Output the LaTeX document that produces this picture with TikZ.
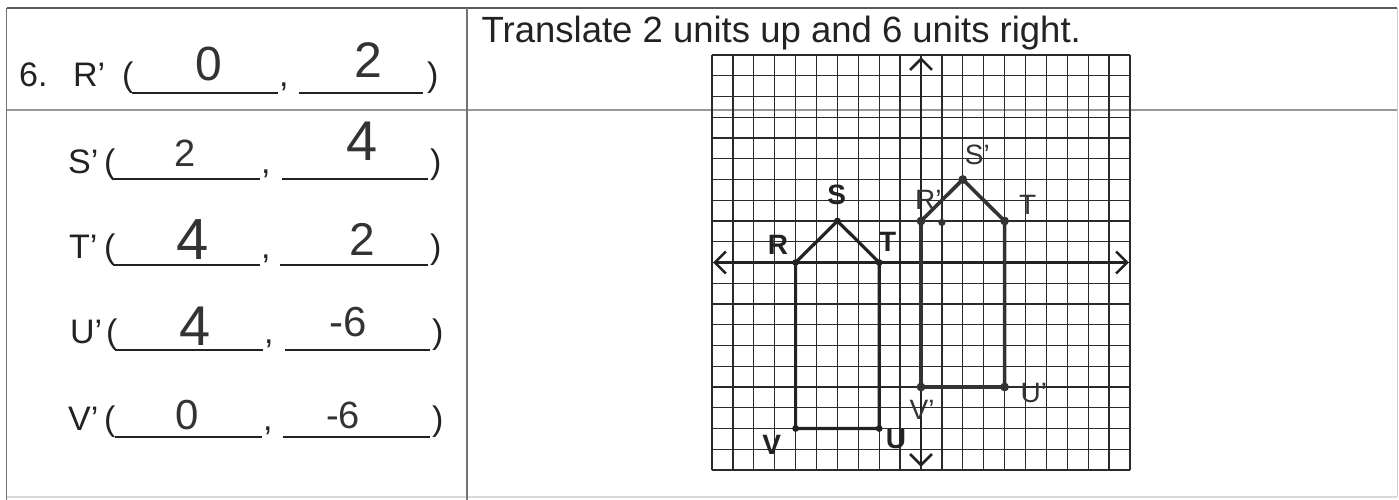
\documentclass[tikz,border=0pt]{standalone}
\usepackage{fontspec}
\setmainfont{Liberation Sans}
\usetikzlibrary{arrows.meta}
\definecolor{ink}{HTML}{222222}
\definecolor{pencil}{HTML}{333333}
\definecolor{gridc}{HTML}{2A2A2A}
\begin{document}
\begin{tikzpicture}[x=1pt,y=-1pt,
  typed/.style={anchor=base west, inner sep=0pt, text=ink, font=\fontsize{34}{36}\selectfont},
  title/.style={anchor=base west, inner sep=0pt, text=ink, font=\fontsize{36.5}{40}\selectfont},
  hand/.style={inner sep=0pt, text=pencil, font=\fontsize{#1}{#1}\selectfont},
  blank/.style={line width=1.3pt, draw=ink},
  ptlabel/.style={inner sep=0pt, text=ink, font=\fontsize{28}{28}\selectfont\bfseries},
  handlabel/.style={inner sep=0pt, text=pencil, font=\fontsize{28}{28}\selectfont},
  gridline/.style={draw=gridc, line width=1.3pt},
  axisline/.style={draw=ink, line width=2.6pt, {Straight Barb[length=11pt,width=22pt]}-{Straight Barb[length=11pt,width=22pt]}},
  figline/.style={draw=ink, line width=3.2pt, line join=round},
  handline/.style={draw=pencil, line width=3.6pt, line join=round},
  vdot/.style={fill=ink}
]
\useasboundingbox (0,0) rectangle (1399,500);
% table frame
\draw[draw=black!40, line width=1.2pt] (6.5,110) -- (1397,110);
\draw[draw=black!15, line width=1.2pt] (6.5,497) -- (1397,497);
\draw[draw=black!20, line width=1pt] (1397,8) -- (1397,497);
\draw[draw=black!65, line width=1.6pt] (6.5,8) -- (1397,8);
\draw[draw=black!55, line width=1.4pt] (6.5,8) -- (6.5,500);
\draw[draw=black!55, line width=1.4pt] (467,8) -- (467,500);
% title
\node[title] (ttl) at (481.5,43) {Translate 2 units up and 6 units right.};
% row 1
\node[typed] (n6) at (19,87) {6.};
\node[typed] (r1) at (73,87) {R’};
\node[typed] (r1o) at (122,87) {(};
\draw[blank] (132,93) -- (278,93);
\node[typed] (r1c) at (279,87) {,};
\draw[blank] (299,93) -- (423,93);
\node[typed] (r1e) at (427,87) {)};
\node[hand=48] (r1x) at (209,64) {0};
\node[hand=50] (r1y) at (368,60) {2};
% row 2
\node[typed] (r2) at (68,173) {S’};
\node[typed] (r2o) at (104,173) {(};
\draw[blank] (113,179) -- (260,179);
\node[typed] (r2c) at (261,173) {,};
\draw[blank] (282,179) -- (428,179);
\node[typed] (r2e) at (430,173) {)};
\node[hand=38] (r2x) at (185,153) {2};
\node[hand=56] (r2y) at (362,141) {4};
% row 3
\node[typed] (r3) at (69,258) {T’};
\node[typed] (r3o) at (104,258) {(};
\draw[blank] (113,265) -- (260,265);
\node[typed] (r3c) at (261,258) {,};
\draw[blank] (280,265) -- (428,265);
\node[typed] (r3e) at (430,258) {)};
\node[hand=58] (r3x) at (193,240) {4};
\node[hand=46] (r3y) at (362,239) {2};
% row 4
\node[typed] (r4) at (70,343) {U’};
\node[typed] (r4o) at (106,343) {(};
\draw[blank] (115,350) -- (263,350);
\node[typed] (r4c) at (264,343) {,};
\draw[blank] (285,350) -- (430,350);
\node[typed] (r4e) at (432,343) {)};
\node[hand=56] (r4x) at (195,326) {4};
\node[hand=42] (r4y) at (348,322) {-6};
% row 5
\node[typed] (r5) at (68,430) {V’};
\node[typed] (r5o) at (104,430) {(};
\draw[blank] (115,437) -- (262,437);
\node[typed] (r5c) at (263,430) {,};
\draw[blank] (283,437) -- (430,437);
\node[typed] (r5e) at (432,430) {)};
\node[hand=42] (r5x) at (187,415) {0};
\node[hand=38] (r5y) at (343,415) {-6};
% coordinate grid
\begin{scope}[shift={(921,262.5)}, x=20.9pt, y=20.75pt]
  \foreach \k in {-10,...,10} {
    \draw[gridline] (\k,-10) -- (\k,10);
    \draw[gridline] (-10,\k) -- (10,\k);
  }
  \coordinate (xl) at (-9.95,0);
  \coordinate (xr) at (9.95,0);
  \coordinate (yt) at (0,9.9);
  \coordinate (yb) at (0,-9.85);
  \draw[axisline] (xl) -- (xr);
  \draw[axisline] (yb) -- (yt);
  % original figure
  \coordinate (R) at (-6,0);
  \coordinate (S) at (-4,2);
  \coordinate (T) at (-2,0);
  \coordinate (U) at (-2,-8);
  \coordinate (V) at (-6,-8);
  \draw[figline] (R) -- (S) -- (T) -- (U) -- (V) -- cycle;
  \foreach \p in {R,S,T,U,V} \fill[vdot] (\p) circle (3.4pt);
  \node[ptlabel] (lR) at (-6.84,0.86) {R};
  \node[ptlabel] (lS) at (-4.03,3.25) {S};
  \node[ptlabel] (lT) at (-1.59,1.0) {T};
  \node[ptlabel] (lV) at (-7.14,-8.8) {V};
  \node[ptlabel] (lU) at (-1.2,-8.5) {U};
  % translated figure (hand drawn)
  \coordinate (Rp) at (0,2);
  \coordinate (Sp) at (2,4);
  \coordinate (Tp) at (4,2);
  \coordinate (Up) at (4,-6);
  \coordinate (Vp) at (0,-6);
  \coordinate (extra) at (1,1.93);
  \draw[handline] (Rp) -- (Sp) -- (Tp) -- (Up) -- (Vp) -- cycle;
  \foreach \p in {Rp,Sp,Tp,Up,Vp} \fill[pencil] (\p) circle (4.4pt);
  \fill[pencil] (extra) circle (3.6pt);
  \node[handlabel] (lRp) at (0.35,3.0) {R'};
  \node[handlabel] (lSp) at (2.7,5.2) {S'};
  \node[handlabel] (lTp) at (5.1,2.8) {T};
  \node[handlabel] (lUp) at (5.4,-6.3) {U'};
  \node[handlabel] (lVp) at (0.05,-7.1) {V'};
\end{scope}
\end{tikzpicture}
\end{document}
